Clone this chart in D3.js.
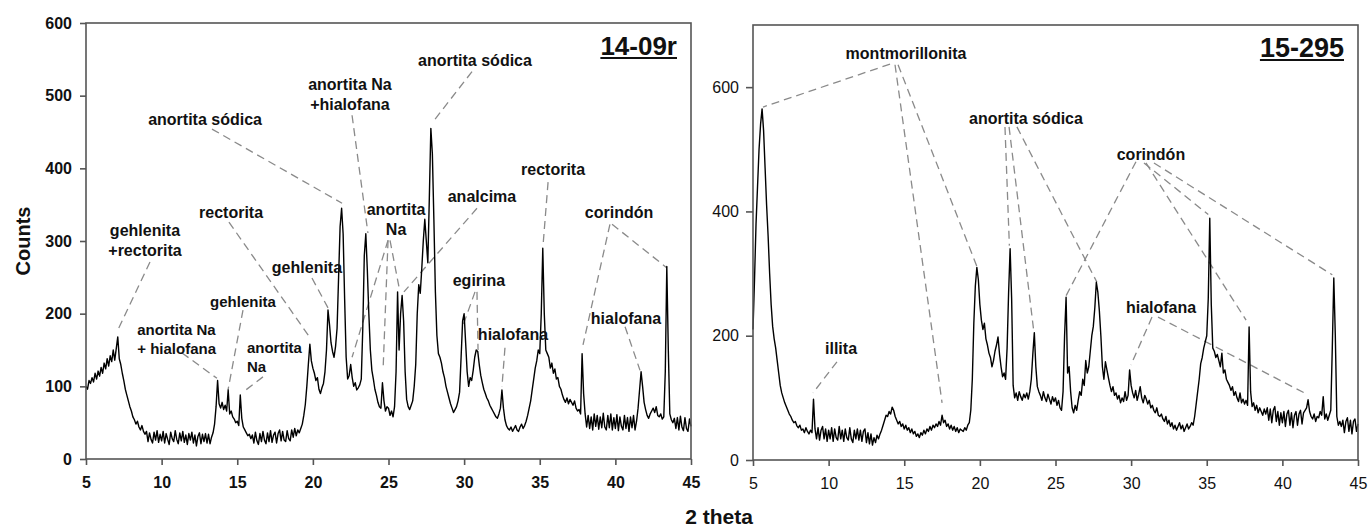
<!DOCTYPE html>
<html><head><meta charset="utf-8">
<script src="https://cdn.jsdelivr.net/npm/d3@7"></script>
<style>
body{margin:0;background:#fff;}
text{font-family:"Liberation Sans",Arial,Helvetica,sans-serif;}
</style>
</head><body>
<svg id="chart" width="1368" height="531"></svg>
<script>
// ---------- DATA ----------
const thetaStart = 5, thetaStep = 0.1;   // 2-theta grid, 5.0 .. 45.0
// sample 14-09r (counts every 0.1 deg)
const counts1409r = [
100,96,108,104,112,106,118,110,121,114,
126,118,132,124,138,128,142,134,150,136,
152,168,138,130,118,108,96,88,80,72,
66,58,54,48,52,44,40,46,38,34,
38,24,36,27,22,37,26,39,23,34,
25,38,22,35,27,20,37,28,24,39,
27,21,36,25,38,23,33,20,35,26,
37,22,33,18,31,36,21,34,24,35,
22,34,21,30,36,48,72,108,76,70,
78,68,74,66,95,62,66,58,55,50,
52,46,88,56,44,40,36,32,34,28,
33,22,37,25,20,35,24,38,26,21,
36,24,39,23,33,37,22,35,40,25,
38,26,24,39,28,25,40,30,42,32,
40,36,42,48,60,75,100,130,158,135,
125,118,108,112,96,90,98,104,120,150,
205,185,160,148,140,155,180,250,320,345,
310,220,140,110,115,130,112,100,105,95,
98,102,110,180,280,310,260,200,150,122,
110,96,88,78,72,70,105,80,66,72,
70,60,66,58,72,120,230,150,200,225,
190,120,82,72,68,74,80,100,130,200,
240,228,262,300,330,300,270,360,455,420,
330,230,170,145,140,132,120,112,100,92,
84,76,70,64,68,72,80,92,140,190,
200,160,120,100,112,108,122,140,150,148,
130,115,105,96,90,84,80,74,70,66,
62,58,56,62,70,95,70,54,46,42,
40,44,38,42,46,40,38,44,48,42,
46,52,60,70,80,95,110,125,135,150,
145,200,290,200,150,145,140,125,132,118,
124,110,112,100,96,88,82,78,84,76,
82,78,74,80,70,66,68,62,145,90,
62,44,60,42,58,40,62,45,60,41,
58,43,63,44,40,60,43,62,40,57,
42,61,39,58,45,40,60,42,57,38,
58,43,60,40,52,70,95,120,100,78,
68,60,56,62,66,70,64,72,60,58,
62,55,58,120,265,150,62,54,50,56,
42,57,40,59,44,39,57,42,38,55,
45];
// sample 15-295
const counts15295 = [
210,290,380,440,500,540,565,530,470,410,
360,300,250,215,195,180,160,140,120,108,
100,92,86,80,74,70,64,60,62,55,
52,56,48,50,44,52,46,42,48,44,
98,50,34,52,32,48,54,34,50,30,
48,34,52,30,50,36,32,54,34,48,
30,50,36,32,52,34,28,48,34,50,
32,48,30,46,50,28,44,26,42,24,
36,28,40,34,42,48,56,64,72,70,
78,74,85,80,70,64,58,62,54,58,
50,56,48,52,44,50,42,46,38,42,
36,44,40,48,42,50,46,54,48,56,
52,58,54,62,56,72,60,64,54,58,
50,56,48,54,46,52,44,50,48,46,
52,48,56,60,80,130,220,280,310,290,
250,225,210,220,195,185,172,165,150,160,
175,185,198,170,150,134,140,130,180,270,
340,260,120,100,108,96,110,102,96,106,
100,108,98,110,130,170,205,150,118,110,
104,96,110,100,94,106,98,90,102,94,
100,88,96,84,80,110,200,262,140,150,
110,84,76,88,80,96,110,104,130,120,
160,140,150,175,200,215,245,286,270,240,
200,150,130,158,145,132,120,110,118,104,
108,98,104,92,100,94,110,96,104,145,
120,108,100,112,96,106,118,100,92,104,
98,90,96,84,88,80,76,84,72,70,
74,66,62,70,58,64,54,60,50,56,
48,54,60,50,56,46,52,58,50,54,
60,56,70,90,110,130,155,165,180,190,
200,260,389,250,180,175,165,170,160,150,
172,140,145,130,125,120,112,118,104,110,
100,94,108,92,98,90,96,88,214,110,
86,92,80,88,76,84,78,72,82,74,
84,64,82,60,80,86,62,78,56,76,
60,78,54,74,80,56,76,52,72,78,
56,74,80,58,76,80,84,97,78,70,
66,74,62,70,68,78,72,102,66,74,
64,72,80,180,293,200,70,56,62,54,
64,44,62,68,46,64,42,62,66,46,
58];
const xTickValues = [5,10,15,20,25,30,35,40,45];
const yTicks1409r = [0,100,200,300,400,500,600];
const yTicks15295 = [0,200,400,600];
const sampleNames = ["14-09r","15-295"];
const yLabel = "Counts";
const xLabel = "2 theta";

// phase labels: [lines], theta, counts (centre of first line), anchor, font size
const labels1409r = [
  {t:["gehlenita","+rectorita"], x:8.9,  y:315, a:"middle", s:16},
  {t:["rectorita"],              x:14.59,y:340, a:"middle", s:16},
  {t:["anortita sódica"],        x:12.87,y:468, a:"middle", s:16},
  {t:["gehlenita"],              x:19.61,y:264, a:"middle", s:16},
  {t:["anortita Na","+hialofana"],x:22.45,y:515,a:"middle", s:16},
  {t:["anortita sódica"],        x:30.72,y:548, a:"middle", s:16},
  {t:["anortita","Na"],          x:25.5, y:343, a:"middle", s:16},
  {t:["analcima"],               x:31.18,y:361, a:"middle", s:16},
  {t:["rectorita"],              x:35.88,y:398, a:"middle", s:16},
  {t:["corindón"],               x:40.24,y:340, a:"middle", s:16},
  {t:["egirina"],                x:30.98,y:246, a:"middle", s:16},
  {t:["hialofana"],              x:33.23,y:172, a:"middle", s:16},
  {t:["hialofana"],              x:40.7, y:193, a:"middle", s:16},
  {t:["anortita Na","+ hialofana"],x:8.39,y:178,a:"start", s:15},
  {t:["gehlenita"],              x:15.38,y:216, a:"middle", s:15},
  {t:["anortita","Na"],          x:15.64,y:153, a:"start", s:15}
];
const leaders1409r = [
  [9.23,271,7.05,175],[14.45,326,19.81,167],[13.33,454,21.93,352],[19.94,249,21.0,208],
  [22.59,473,23.64,311],[30.52,533,27.94,464],
  [24.97,301,22.59,140],[24.97,301,24.64,122],[25.1,301,25.69,237],
  [30.85,345,26.02,230],[35.55,381,35.21,292],
  [39.64,323,37.86,157],[39.78,323,43.41,263],
  [30.72,230,29.93,184],[30.85,230,30.92,150],
  [32.7,153,32.5,99],[40.64,182,41.63,122],
  [11.35,146,13.66,111],[15.38,205,14.39,95],[16.7,113,15.38,92]
];
const labels15295 = [
  {t:["montmorillonita"], x:15.12, y:655, a:"middle", s:16},
  {t:["illita"],          x:10.82, y:180, a:"middle", s:16},
  {t:["anortita sódica"], x:23.05, y:550, a:"middle", s:16},
  {t:["corindón"],        x:31.31, y:491, a:"middle", s:16},
  {t:["hialofana"],       x:31.98, y:245, a:"middle", s:16}
];
const leaders15295 = [
  [14.06,637,5.66,568],[14.39,636,17.5,92],[14.59,636,19.81,311],
  [10.55,158,8.97,108],
  [21.66,536,21.95,345],[21.93,536,23.58,204],[22.45,536,27.74,286],
  [30.32,480,25.65,262],[30.85,478,35.1,395],[30.98,478,37.6,225],[31.51,478,43.3,298],
  [31.38,230,29.99,153],[31.78,230,41.69,105]
];

// ---------- DRAW ----------
const svg = d3.select("#chart");
const panels = [
  {name:sampleNames[0], data:counts1409r, yMax:600, yTicks:yTicks1409r, labels:labels1409r, leaders:leaders1409r,
   L:86, R:691, T:23, B:459, bold:true, tickPad:8, tickSize:6, titleSize:26},
  {name:sampleNames[1], data:counts15295, yMax:700, yTicks:yTicks15295, labels:labels15295, leaders:leaders15295,
   L:753, R:1358, T:25, B:460, bold:false, tickPad:7, tickSize:7, titleSize:27}
];

panels.forEach(p => {
  const x = d3.scaleLinear().domain([5,45]).range([p.L,p.R]);
  const y = d3.scaleLinear().domain([0,p.yMax]).range([p.B,p.T]);
  const g = svg.append("g");

  // leader lines
  g.selectAll("line.leader").data(p.leaders).enter().append("line")
    .attr("x1",d=>x(d[0])).attr("y1",d=>y(d[1]))
    .attr("x2",d=>x(d[2])).attr("y2",d=>y(d[3]))
    .attr("stroke","#8a8a8a").attr("stroke-width",1.3).attr("stroke-dasharray","8,5");

  // pattern
  const line = d3.line().x((d,i)=>x(thetaStart+i*thetaStep)).y(d=>y(d));
  g.append("path").datum(p.data).attr("d",line)
    .attr("fill","none").attr("stroke","#000").attr("stroke-width",1.4).attr("stroke-linejoin","round");

  // frame
  g.append("rect").attr("x",p.L).attr("y",p.T).attr("width",p.R-p.L).attr("height",p.B-p.T)
    .attr("fill","none").attr("stroke","#555").attr("stroke-width",1.6);

  // axes
  const ax = g.append("g").attr("transform",`translate(0,${p.B})`)
    .call(d3.axisBottom(x).tickValues(xTickValues).tickSize(6).tickPadding(12).tickFormat(d3.format("d")));
  const ay = g.append("g").attr("transform",`translate(${p.L},0)`)
    .call(d3.axisLeft(y).tickValues(p.yTicks).tickSize(p.tickSize).tickPadding(p.tickPad).tickFormat(d3.format("d")));
  [ax,ay].forEach(a=>{
    a.select(".domain").remove();
    a.selectAll(".tick line").attr("stroke","#555").attr("stroke-width",1.6);
    a.selectAll(".tick text").attr("fill","#111").style("font-size","16px")
      .style("font-weight",p.bold?"bold":"normal")
      .style("font-family",'"Liberation Sans",Arial,sans-serif');
  });

  // labels
  p.labels.forEach(l=>{
    const t = g.append("text").attr("x",x(l.x)).attr("y",y(l.y))
      .attr("text-anchor",l.a).attr("fill","#111")
      .style("font-size",l.s+"px").style("font-weight","bold");
    l.t.forEach((s,i)=>{
      t.append("tspan").attr("x",x(l.x)).attr("dy", i===0 ? "0.35em" : "1.25em").text(s);
    });
  });

  // sample title (underlined)
  const tt = g.append("text").attr("x",p.R-14).attr("y",p.T+32)
    .attr("text-anchor","end").attr("fill","#111")
    .style("font-size",p.titleSize+"px").style("font-weight","bold").text(p.name);
  const bb = tt.node().getBBox();
  g.append("line").attr("x1",bb.x).attr("x2",bb.x+bb.width)
    .attr("y1",p.T+35).attr("y2",p.T+35).attr("stroke","#111").attr("stroke-width",2);
});

// axis titles
svg.append("text").attr("transform","translate(30,241) rotate(-90)")
  .attr("text-anchor","middle").attr("fill","#111")
  .style("font-size","20px").style("font-weight","bold").text(yLabel);
svg.append("text").attr("x",719).attr("y",524)
  .attr("text-anchor","middle").attr("fill","#111")
  .style("font-size","21px").style("font-weight","bold").text(xLabel);
</script>
</body></html>
